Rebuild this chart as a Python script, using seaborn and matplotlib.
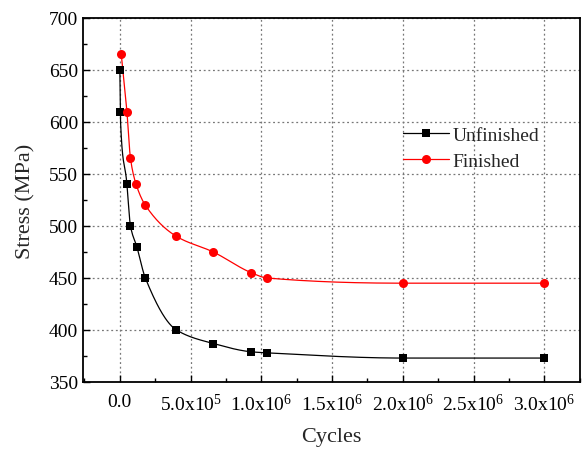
import numpy as np
import matplotlib
matplotlib.use('Agg')
import matplotlib.pyplot as plt
import seaborn as sns
from matplotlib.lines import Line2D
from matplotlib.ticker import MultipleLocator

# data
unfinished_cycles = [0, 2e3, 5e4, 7.5e4, 1.2e5, 1.8e5, 4.0e5, 6.6e5, 9.3e5, 1.04e6, 2.0e6, 3.0e6]
unfinished_stress = [650, 610, 540, 500, 480, 450, 400, 387, 379, 378, 373, 373]
finished_cycles = [1e4, 5e4, 7.5e4, 1.15e5, 1.8e5, 4.0e5, 6.6e5, 9.3e5, 1.04e6, 2.0e6, 3.0e6]
finished_stress = [665, 610, 565, 540, 520, 490, 475, 455, 450, 445, 445]
x_ticks = [0, 5e5, 1e6, 1.5e6, 2e6, 2.5e6, 3e6]
x_tick_labels = ['0.0', r'5.0x10$^5$', r'1.0x10$^6$', r'1.5x10$^6$',
                 r'2.0x10$^6$', r'2.5x10$^6$', r'3.0x10$^6$']


def pchip(x, y, xs):
    # monotone cubic (shape preserving) interpolation, numpy only
    x = np.asarray(x, float)
    y = np.asarray(y, float)
    h = np.diff(x)
    d = np.diff(y) / h
    m = np.zeros_like(y)
    m[0], m[-1] = d[0], d[-1]
    for k in range(1, len(x) - 1):
        if d[k - 1] * d[k] <= 0:
            m[k] = 0
        else:
            w1 = 2 * h[k] + h[k - 1]
            w2 = h[k] + 2 * h[k - 1]
            m[k] = (w1 + w2) / (w1 / d[k - 1] + w2 / d[k])
    idx = np.clip(np.searchsorted(x, xs) - 1, 0, len(x) - 2)
    t = (xs - x[idx]) / h[idx]
    h00 = 2 * t**3 - 3 * t**2 + 1
    h10 = t**3 - 2 * t**2 + t
    h01 = -2 * t**3 + 3 * t**2
    h11 = t**3 - t**2
    return h00 * y[idx] + h10 * h[idx] * m[idx] + h01 * y[idx + 1] + h11 * h[idx] * m[idx + 1]


sns.set_style('ticks')
plt.rcParams['font.family'] = ['Liberation Serif', 'DejaVu Serif']
plt.rcParams['mathtext.fontset'] = 'custom'
plt.rcParams['mathtext.rm'] = 'Liberation Serif'
plt.rcParams['mathtext.it'] = 'Liberation Serif:italic'
plt.rcParams['mathtext.bf'] = 'Liberation Serif:bold'

fig = plt.figure(figsize=(5.85, 4.52), dpi=100)
ax = fig.add_axes([0.142, 0.1527, 0.849, 0.8053])

series = [
    (unfinished_cycles, unfinished_stress, 'black', 's', 5.5, 'Unfinished'),
    (finished_cycles, finished_stress, 'red', 'o', 6.5, 'Finished'),
]
handles = []
for cx, cy, col, mk, ms, name in series:
    xs = np.linspace(cx[0], cx[-1], 600)
    ys = pchip(cx, cy, xs)
    sns.lineplot(x=xs, y=ys, color=col, lw=0.9, ax=ax, sort=False, legend=False)
    sns.scatterplot(x=cx, y=cy, color=col, marker=mk, s=ms**2, edgecolor=col,
                    linewidth=0, ax=ax, legend=False, zorder=3)
    handles.append(Line2D([], [], color=col, lw=0.9, marker=mk, markersize=ms,
                          markeredgewidth=0, label=name))

ax.set_xlim(-2.6e5, 3.25e6)
ax.set_ylim(350, 700)
ax.set_xticks(x_ticks)
ax.set_xticklabels(x_tick_labels)
ax.xaxis.set_minor_locator(MultipleLocator(2.5e5))
ax.yaxis.set_major_locator(MultipleLocator(50))
ax.yaxis.set_minor_locator(MultipleLocator(25))
ax.tick_params(which='both', direction='in', labelsize=14, colors='black')
ax.tick_params(which='major', length=5, width=1)
ax.tick_params(which='minor', length=3, width=1)
ax.tick_params(axis='x', pad=8)

ax.grid(True, which='major', ls=(0, (1.5, 2.2)), color='#777777', lw=0.9)
for s in ax.spines.values():
    s.set_linewidth(1.3)
    s.set_color('black')

ax.set_xlabel('Cycles', fontsize=16, labelpad=9)
ax.set_ylabel('Stress (MPa)', fontsize=16, labelpad=10)

ax.legend(handles=handles, loc='center left', bbox_to_anchor=(0.628, 0.643),
          frameon=False, fontsize=14, handlelength=2.4, handletextpad=0.15,
          labelspacing=0.45, borderaxespad=0)

fig.savefig('out.png', dpi=100)
